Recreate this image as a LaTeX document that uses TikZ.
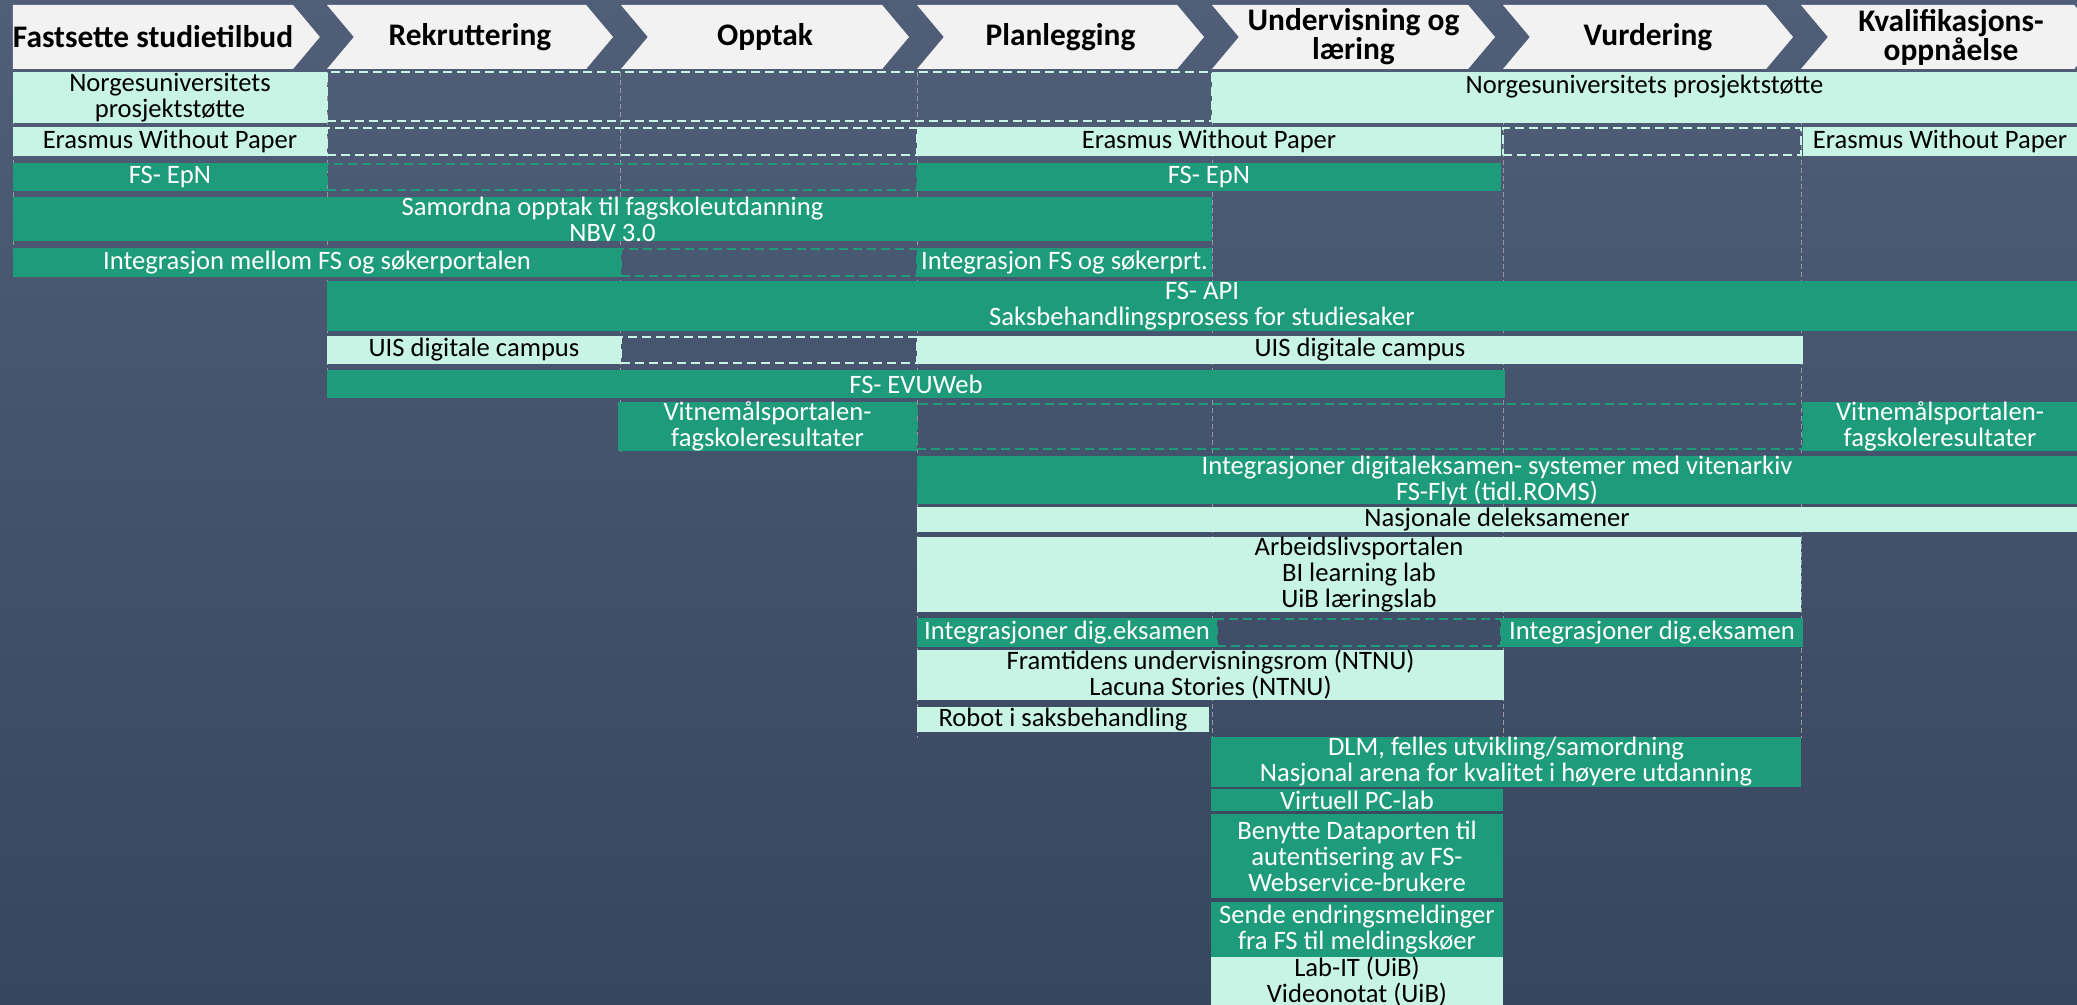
\documentclass[tikz,border=0pt]{standalone}
\usepackage{fontspec}
\setmainfont{Carlito}
\usepackage{tikz}
\usetikzlibrary{shapes.symbols,positioning}
\definecolor{bgtop}{RGB}{80,94,120}
\definecolor{bgbottom}{RGB}{54,70,93}
\definecolor{fsgreen}{RGB}{30,155,122}
\definecolor{mint}{RGB}{200,244,230}
\definecolor{phasegray}{RGB}{242,242,242}
\definecolor{gridgray}{RGB}{150,152,158}
\newcommand{\barfont}{\fontsize{13.3}{13}\selectfont}
\newcommand{\phasefont}{\fontsize{15.7}{14.5}\selectfont\bfseries}
\tikzstyle{phase} = [signal, signal to=east, signal from=west, signal pointer angle=100, fill=phasegray, text=black, align=center, font=\phasefont, minimum height=32pt, inner sep=0pt]
\tikzstyle{greenbar} = [fill=fsgreen, text=white, align=center, font=\barfont, inner sep=0pt]
\tikzstyle{mintbar} = [fill=mint, text=black, align=center, font=\barfont, inner sep=0pt]
\tikzstyle{greengap} = [draw=fsgreen, line width=1pt, dash pattern=on 4.5pt off 2.5pt, inner sep=0pt]
\tikzstyle{mintgap} = [draw=mint, line width=1pt, dash pattern=on 4.5pt off 2.5pt, inner sep=0pt]
\tikzstyle{gridline} = [draw=gridgray, line width=0.5pt, dash pattern=on 2.5pt off 1.5pt]
\tikzset{spanbox/.style n args={4}{at={({(#1+#3)/2},{(#2+#4)/2})}, minimum width={(#3-#1)*0.5pt}, minimum height={(#4-#2)*0.5pt}}}

\begin{document}
\begin{tikzpicture}[x=0.5pt, y=-0.5pt]

\useasboundingbox (0,0) rectangle (2077,1005);
\clip (0,0) rectangle (2077,1005);
\fill[top color=bgtop, bottom color=bgbottom] (0,0) rectangle (2077,1005);

% column grid =============================

\draw[gridline] (13,72) -- (13,277);
\draw[gridline] (327,72) -- (327,398);
\draw[gridline] (620,72) -- (620,452);
\draw[gridline] (917,72) -- (917,738);
\draw[gridline] (1212,72) -- (1212,738);
\draw[gridline] (1503,72) -- (1503,738);
\draw[gridline] (1801,72) -- (1801,738);

% phases =============================

\node[phase, signal from=nowhere, minimum width=153pt] (fastsette) at (153,37) {Fastsette studietilbud};
\node[phase, minimum width=143pt] (rekruttering) at (470,37) {Rekruttering};
\node[phase, minimum width=144pt] (opptak) at (765,37) {Opptak};
\node[phase, minimum width=143.5pt] (planlegging) at (1060.5,37) {Planlegging};
\node[phase, minimum width=141.5pt] (undervisning) at (1353.5,37) {Undervisning og\\læring};
\node[phase, minimum width=145pt] (vurdering) at (1648,37) {Vurdering};
\node[phase, minimum width=150pt] (kvalifikasjon) at (1951,37) {Kvalifikasjons-\\oppnåelse};

% gaps (dashed) =============================

\node[mintgap, spanbox={327}{72}{1212}{121}] (nuGap) {};
\node[mintgap, spanbox={327}{128}{917}{155}] (ewpGapA) {};
\node[mintgap, spanbox={1503}{128}{1801}{155}] (ewpGapB) {};
\node[greengap, spanbox={327}{164}{917}{190}] (epnGap) {};
\node[greengap, spanbox={621}{249}{917}{276}] (intGap) {};
\node[mintgap, spanbox={621}{337}{917}{363}] (uisGap) {};
\node[greengap, spanbox={917}{404}{1803}{449}] (vitGap) {};
\node[greengap, spanbox={1217}{619}{1501}{646}] (digGap) {};

% bars =============================

\node[mintbar, spanbox={13}{72}{327}{123}] (nuL) {Norgesuniversitets\\prosjektstøtte};
\node[mintbar, spanbox={1212}{72}{2077}{123}] (nuR) {Norgesuniversitets prosjektstøtte\\\mbox{}};

\node[mintbar, spanbox={13}{127}{327}{156}] (ewpL) {Erasmus Without Paper};
\node[mintbar, spanbox={917}{127}{1501}{156}] (ewpM) {Erasmus Without Paper};
\node[mintbar, spanbox={1803}{127}{2077}{156}] (ewpR) {Erasmus Without Paper};

\node[greenbar, spanbox={13}{163}{327}{191}] (epnL) {FS- EpN};
\node[greenbar, spanbox={917}{163}{1501}{191}] (epnM) {FS- EpN};

\node[greenbar, spanbox={13}{197}{1212}{241}] (samordna) {Samordna opptak til fagskoleutdanning\\NBV 3.0};

\node[greenbar, spanbox={13}{248}{621}{277}] (intL) {Integrasjon mellom FS og søkerportalen};
\node[greenbar, spanbox={917}{248}{1212}{277}] (intM) {Integrasjon FS og søkerprt.};

\node[greenbar, spanbox={327}{281}{2077}{331}] (fsapi) {FS- API\\Saksbehandlingsprosess for studiesaker};

\node[mintbar, spanbox={327}{336}{621}{364}] (uisL) {UIS digitale campus};
\node[mintbar, spanbox={917}{336}{1803}{364}] (uisM) {UIS digitale campus};

\node[greenbar, spanbox={327}{370}{1505}{398}] (evuweb) {FS- EVUWeb};

\node[greenbar, spanbox={618}{403}{917}{450}] (vitL) {Vitnemålsportalen-\\fagskoleresultater};
\node[greenbar, spanbox={1803}{403}{2077}{450}] (vitR) {Vitnemålsportalen-\\fagskoleresultater};

\node[greenbar, spanbox={917}{457}{2077}{503}] (digeksamen) {Integrasjoner digitaleksamen- systemer med vitenarkiv\\FS-Flyt (tidl.ROMS)};
\node[mintbar, spanbox={917}{507}{2077}{532}] (deleksamen) {Nasjonale deleksamener};
\node[mintbar, spanbox={917}{537}{1801}{612}] (arbeidsliv) {Arbeidslivsportalen\\BI learning lab\\UiB læringslab};

\node[greenbar, spanbox={917}{618}{1217}{647}] (digL) {Integrasjoner dig.eksamen};
\node[greenbar, spanbox={1501}{618}{1803}{647}] (digR) {Integrasjoner dig.eksamen};

\node[mintbar, spanbox={917}{652}{1504}{698}] (framtid) {Framtidens undervisningsrom (NTNU)\\Lacuna Stories (NTNU)};
\node[mintbar, spanbox={917}{707}{1209}{732}] (robot) {Robot i saksbehandling};

\node[greenbar, spanbox={1211}{738}{1801}{786}] (dlm) {DLM, felles utvikling/samordning\\Nasjonal arena for kvalitet i høyere utdanning};
\node[greenbar, spanbox={1211}{789}{1503}{811}] (pclab) {Virtuell PC-lab};
\node[greenbar, spanbox={1211}{814}{1503}{898}] (dataporten) {Benytte Dataporten til\\autentisering av FS-\\Webservice-brukere};
\node[greenbar, spanbox={1211}{902}{1503}{957}] (meldinger) {Sende endringsmeldinger\\fra FS til meldingskøer};
\node[mintbar, spanbox={1211}{960}{1503}{1003}] (labit) {Lab-IT (UiB)\\Videonotat (UiB)};

\end{tikzpicture}
\end{document}
